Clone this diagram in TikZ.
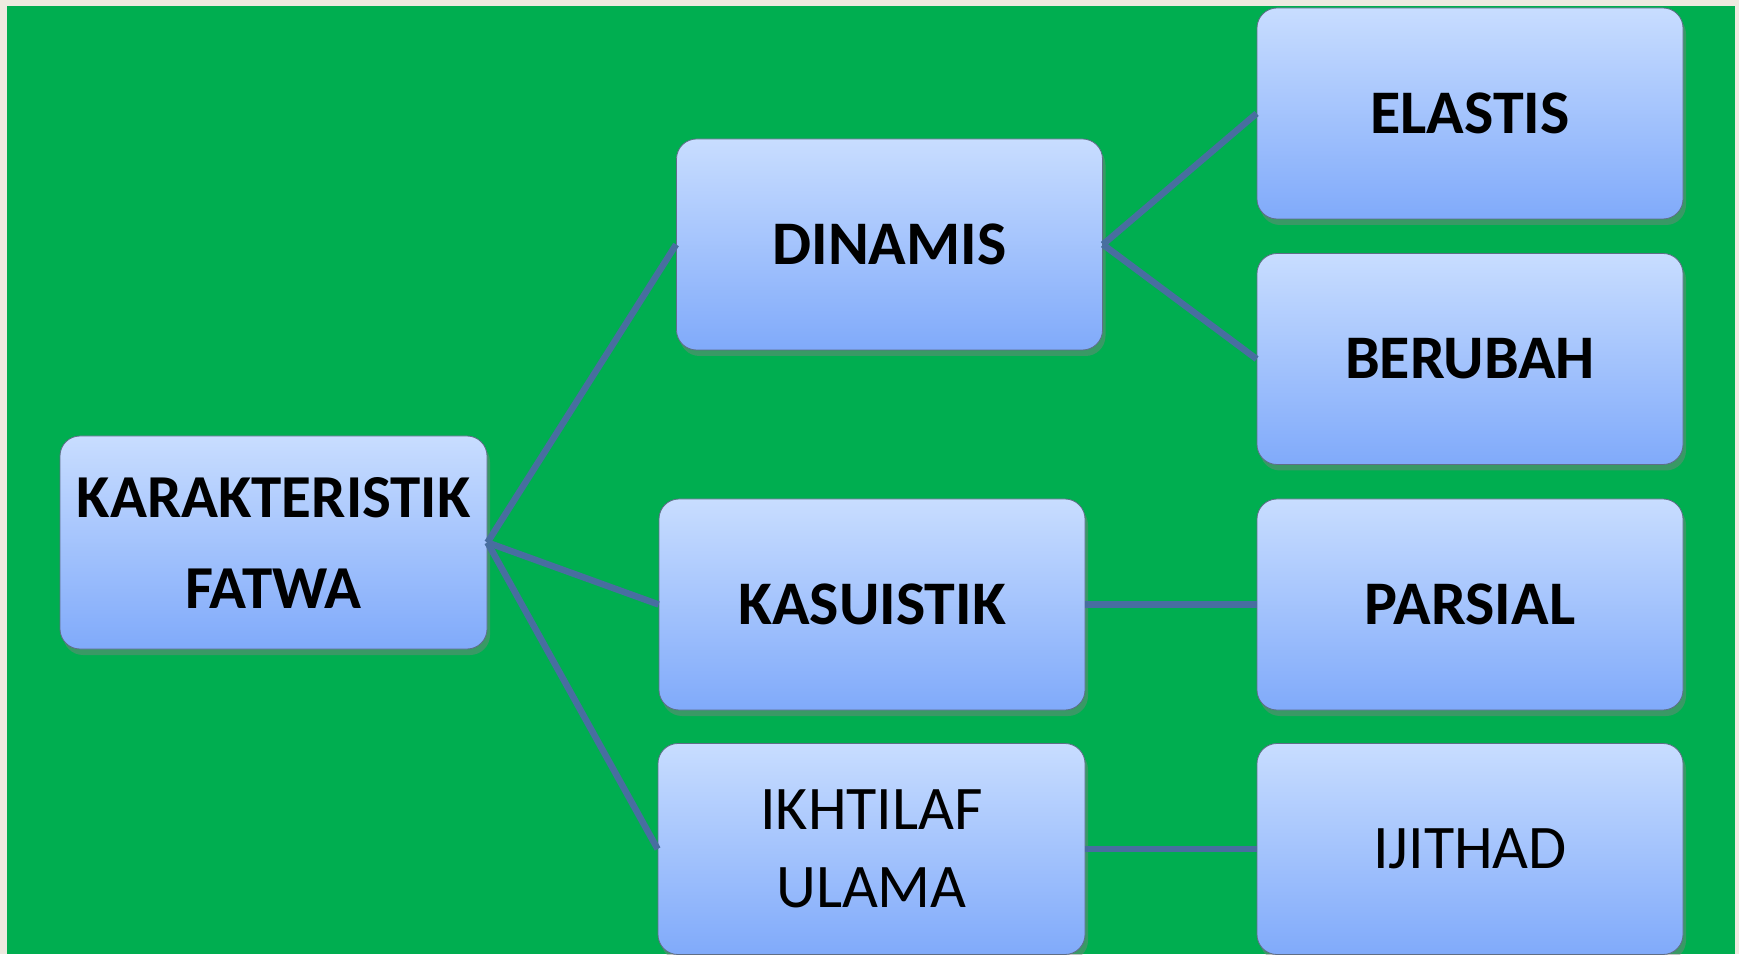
\documentclass[tikz,border=0pt]{standalone}
\usepackage{fontspec}
\setmainfont{Carlito}
\usetikzlibrary{shadows}

\definecolor{beige}{RGB}{238,234,224}
\definecolor{bggreen}{RGB}{0,174,80}
\definecolor{boxtop}{RGB}{200,221,255}
\definecolor{boxbot}{RGB}{128,170,250}
\definecolor{boxline}{RGB}{95,110,135}
\definecolor{link}{RGB}{72,110,160}

\begin{document}
\begin{tikzpicture}[x=1pt,y=1pt]
\tikzstyle{every node}+=[inner sep=0pt]
\tikzstyle{box}=[rectangle, rounded corners=20pt, draw=boxline, line width=0.8pt,
  top color=boxtop, bottom color=boxbot, minimum width=426pt, minimum height=211pt,
  align=center, text=black,
  drop shadow={shadow xshift=3pt, shadow yshift=-6pt, opacity=0.45},
  font=\fontsize{62}{78}\selectfont]
\tikzstyle{link}=[draw=link, line width=6.5pt]
\useasboundingbox (0,0) rectangle (1739,954);
\fill [beige] (0,0) rectangle (1739,954);
\fill [bggreen] (7,0) rectangle (1735,948);
% nodes
\node [box, minimum width=427pt, minimum height=213pt,
  font=\fontsize{61}{91}\selectfont\bfseries] (karakteristik) at (273.5,411.5) {KARAKTERISTIK\\FATWA};
\node [box, font=\fontsize{62}{78}\selectfont\bfseries] (dinamis) at (889.5,709.5) {DINAMIS};
\node [box, font=\fontsize{62}{78}\selectfont\bfseries] (elastis) at (1470,840.5) {ELASTIS};
\node [box, font=\fontsize{62}{78}\selectfont\bfseries] (berubah) at (1470,595) {BERUBAH};
\node [box, font=\fontsize{62}{78}\selectfont\bfseries] (kasuistik) at (872,349.5) {KASUISTIK};
\node [box, font=\fontsize{62}{78}\selectfont\bfseries] (parsial) at (1470,349.5) {PARSIAL};
\node [box, minimum width=427pt] (ikhtilaf) at (871.5,105) {IKHTILAF\\ULAMA};
\node [box] (ijithad) at (1470,105) {IJITHAD};
% links
\draw [link] (karakteristik.east) -- (dinamis.west);
\draw [link] (karakteristik.east) -- (kasuistik.west);
\draw [link] (karakteristik.east) -- (ikhtilaf.west);
\draw [link] (dinamis.east) -- (elastis.west);
\draw [link] (dinamis.east) -- (berubah.west);
\draw [link] (kasuistik.east) -- (parsial.west);
\draw [link] (ikhtilaf.east) -- (ijithad.west);
\end{tikzpicture}
\end{document}
